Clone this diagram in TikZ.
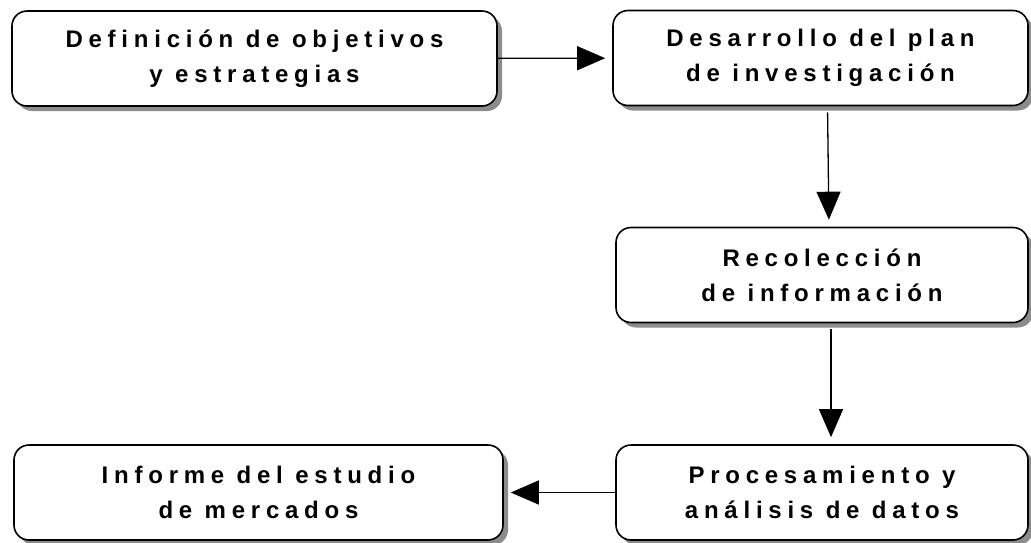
\documentclass[tikz,border=0pt]{standalone}
\usepackage{fontspec}
\setmainfont{Liberation Sans}[LetterSpace=24]
\usetikzlibrary{arrows.meta,shadows}

\tikzset{
  etapa/.style={draw, line width=1.6pt, rounded corners=15pt, fill=white,
    drop shadow={shadow xshift=5pt, shadow yshift=-5pt, fill=gray!90, opacity=1},
    align=center, font=\fontsize{24}{35}\selectfont\bfseries,
    inner sep=0pt, minimum height=95pt},
  flecha/.style={line width=1.3pt, -{Triangle[length=28pt,width=24pt]}, shorten >=7pt}
}

\begin{document}
\begin{tikzpicture}[x=1pt,y=-1pt]
\useasboundingbox (0,0) rectangle (1031,542);
% etapas del estudio
\node[etapa, minimum width=485pt] (objetivos) at (254.5,58.5) {Definición de objetivos\\y estrategias};
\node[etapa, minimum width=415pt] (plan) at (820.5,58) {Desarrollo del plan\\de investigación};
\node[etapa, minimum width=412pt] (recoleccion) at (822,275) {Recolección\\de información};
\node[etapa, minimum width=412pt] (procesamiento) at (822,492.5) {Procesamiento y\\análisis de datos};
\node[etapa, minimum width=489pt] (informe) at (258.5,492.5) {Informe del estudio\\de mercados};
% flechas
\draw[flecha] (objetivos) -- (plan);
\draw[flecha, shorten <=6pt] ([xshift=7pt]plan.south) -- ([xshift=7pt]recoleccion.north);
\draw[flecha, shorten <=6pt] ([xshift=9pt]recoleccion.south) -- ([xshift=9pt]procesamiento.north);
\draw[flecha] (procesamiento) -- (informe);
\end{tikzpicture}
\end{document}
